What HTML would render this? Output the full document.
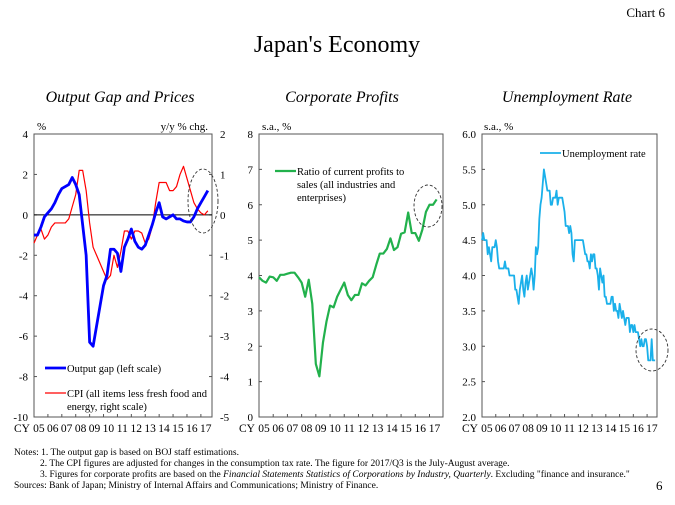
<!DOCTYPE html>
<html><head><meta charset="utf-8"><style>
body{margin:0;background:#fff;width:675px;height:500px;overflow:hidden;font-family:"Liberation Serif",serif}
svg text{font-family:"Liberation Serif",serif}
</style></head><body>
<svg id="s" width="675" height="500" viewBox="0 0 675 500" xmlns="http://www.w3.org/2000/svg">
<text x="665" y="17" font-size="13" text-anchor="end">Chart 6</text>
<text x="337" y="52" font-size="24" text-anchor="middle">Japan's Economy</text>
<text x="120" y="102" font-size="16" font-style="italic" text-anchor="middle">Output Gap and Prices</text>
<text x="342" y="102" font-size="16" font-style="italic" text-anchor="middle">Corporate Profits</text>
<text x="567" y="102" font-size="16" font-style="italic" text-anchor="middle">Unemployment Rate</text>
<g font-size="9.5">
<text x="14" y="455">Notes: 1. The output gap is based on BOJ staff estimations.</text>
<text x="40" y="466">2. The CPI figures are adjusted for changes in the consumption tax rate. The figure for 2017/Q3 is the July-August average.</text>
<text x="40" y="477">3. Figures for corporate profits are based on the <tspan font-style="italic">Financial Statements Statistics of Corporations by Industry, Quarterly</tspan>. Excluding "finance and insurance."</text>
<text x="14" y="488">Sources: Bank of Japan; Ministry of Internal Affairs and Communications; Ministry of Finance.</text>
</g>
<text x="656" y="490" font-size="13">6</text>
<g id="g"></g>
</svg>
<script>
const yearLabels=["05","06","07","08","09","10","11","12","13","14","15","16","17"];
const gapTicks=[4,2,0,-2,-4,-6,-8,-10];
const cpiTicks=[2,1,0,-1,-2,-3,-4,-5];
const profitTicks=[8,7,6,5,4,3,2,1,0];
const unempTicks=["6.0","5.5","5.0","4.5","4.0","3.5","3.0","2.5","2.0"];
const outputGap=[-1.0,-1.0,-0.6,-0.1,0.1,0.3,0.6,1.0,1.3,1.4,1.5,1.85,1.5,1.0,-0.5,-2.0,-6.3,-6.5,-5.5,-4.5,-3.5,-3.0,-1.7,-1.7,-1.9,-2.8,-1.6,-1.2,-0.7,-1.3,-1.6,-1.7,-1.5,-1.0,-0.5,0.1,0.6,-0.1,-0.2,-0.1,0.0,-0.2,-0.2,-0.3,-0.35,-0.35,-0.1,0.3,0.6,0.9,1.2];
const cpi=[-0.7,-0.5,-0.35,-0.6,-0.5,-0.3,-0.2,-0.2,-0.2,-0.2,-0.1,0.2,0.5,1.1,1.1,0.6,-0.2,-0.8,-1.0,-1.2,-1.4,-1.6,-1.5,-1.0,-1.3,-0.9,-0.4,-0.4,-0.6,-0.4,-0.4,-0.45,-0.7,-0.6,-0.3,0.3,0.8,0.8,0.8,0.6,0.6,0.7,1.0,1.2,0.9,0.6,0.3,0.15,0.05,0.0,0.1];
const profits=[3.95,3.85,3.8,3.97,3.95,3.85,4.02,4.02,4.05,4.08,4.08,3.95,3.8,3.4,3.88,3.2,1.5,1.15,2.1,2.7,3.15,3.1,3.4,3.6,3.8,3.45,3.3,3.45,3.45,3.78,3.72,3.85,3.95,4.3,4.62,4.62,4.75,5.05,4.72,4.8,5.18,5.22,5.78,5.2,5.2,4.98,5.3,5.8,6.0,6.0,6.15];
const unemployment=[4.5,4.6,4.5,4.5,4.5,4.3,4.4,4.3,4.2,4.4,4.4,4.4,4.5,4.4,4.2,4.1,4.1,4.1,4.1,4.1,4.2,4.1,4.1,4.1,4.0,4.0,4.0,4.0,4.0,3.8,3.8,3.7,3.6,3.8,3.9,4.0,3.8,3.7,3.9,4.0,3.8,3.9,4.0,4.1,4.0,3.8,4.0,4.4,4.3,4.4,4.8,5.0,5.1,5.3,5.5,5.4,5.3,5.2,5.2,5.2,5.0,5.0,5.1,5.1,5.1,5.2,5.0,5.1,5.1,5.1,5.1,5.0,4.9,4.7,4.7,4.7,4.6,4.7,4.6,4.3,4.2,4.5,4.5,4.5,4.5,4.5,4.5,4.5,4.5,4.4,4.3,4.3,4.2,4.2,4.1,4.3,4.2,4.3,4.3,4.1,4.1,4.0,3.8,4.1,4.0,3.9,4.0,3.7,3.7,3.6,3.6,3.6,3.6,3.7,3.7,3.5,3.6,3.5,3.5,3.4,3.6,3.5,3.4,3.5,3.4,3.3,3.4,3.4,3.4,3.2,3.3,3.3,3.2,3.3,3.2,3.2,3.2,3.1,3.0,3.1,3.0,3.0,3.1,3.1,3.0,2.8,2.8,2.8,3.1,2.8,2.8,2.8];

const NS="http://www.w3.org/2000/svg";
const G=document.getElementById('g');
function mk(tag,attrs,parent){const e=document.createElementNS(NS,tag);for(const k in attrs)e.setAttribute(k,attrs[k]);(parent||G).appendChild(e);return e;}
function txt(x,y,s,anchor,size,parent){const t=mk('text',{x:x,y:y,'font-size':size||11,'text-anchor':anchor||'start'},parent);t.textContent=s;return t;}

function scaleX(p,t){return p.x0+(t-2005)/(p.t1-2005)*(p.x1-p.x0);}
function scaleY(y0,y1,vmin,vmax,v){return y1-(v-vmin)/(vmax-vmin)*(y1-y0);}

function frame(p,name){
  const r=mk('rect',{x:p.x0,y:p.y0,width:p.x1-p.x0,height:p.y1-p.y0,fill:'none',stroke:'#555','stroke-width':1});
  
  
  const xl=mk('g',{});
  
  
  txt(p.x0-4,p.y1+15,'CY','end',11.5,xl);
  yearLabels.forEach((l,i)=>{
    const x=scaleX(p,2005+i);
    mk('line',{x1:x,x2:x,y1:p.y1,y2:p.y1-3,stroke:'#555'});
    txt(scaleX(p,2005+i+0.35),p.y1+15,l,'middle',11.5,xl);
  });
}
function yAxis(p,ticks,vmin,vmax,side,name){
  const g=mk('g',{});
  
  
  ticks.forEach(t=>{
    const y=scaleY(p.y0,p.y1,vmin,vmax,+t);
    if(side==='left'){mk('line',{x1:p.x0,x2:p.x0+3,y1:y,y2:y,stroke:'#555'});txt(p.x0-6,y+4,String(t),'end',11,g);}
    else{mk('line',{x1:p.x1,x2:p.x1-3,y1:y,y2:y,stroke:'#555'});txt(p.x1+8,y+4,String(t),'start',11,g);}
  });
}
function series(p,vals,vmin,vmax,step,color,w,name){
  const d=vals.map((v,i)=>(i?'L':'M')+scaleX(p,2005+i*step).toFixed(2)+','+scaleY(p.y0,p.y1,vmin,vmax,v).toFixed(2)).join(' ');
  const e=mk('path',{d:d,fill:'none',stroke:color,'stroke-width':w,'stroke-linejoin':'round'});
  
  
}
function ellipse(cx,cy,rx,ry,name){
  const e=mk('ellipse',{cx:cx,cy:cy,rx:rx,ry:ry,fill:'none',stroke:'#333','stroke-dasharray':'3,2','stroke-width':0.9});
  
  
}
function legend(x,y,color,w,lines,name){
  const g=mk('g',{});
  
  
  mk('line',{x1:x,x2:x+21,y1:y,y2:y,stroke:color,'stroke-width':w},g);
  lines.forEach((l,i)=>txt(x+22,y+4+i*13,l,'start',10.5,g));
}

// Panel 1
const p1={x0:34,x1:212,y0:134,y1:417,t1:2017.8};
frame(p1,'panel1');
yAxis(p1,gapTicks,-10,4,'left','panel1-left-y-axis');
yAxis(p1,cpiTicks,-5,2,'right','panel1-right-y-axis');
const z=scaleY(p1.y0,p1.y1,-10,4,0);
const zl=mk('line',{x1:p1.x0,x2:p1.x1,y1:z,y2:z,stroke:'#000','stroke-width':1});


txt(37,130,'%','start',11);
txt(208,130,'y/y % chg.','end',11);
series(p1,cpi,-5,2,0.25,'#f00',1.2,'cpi-line');
series(p1,outputGap,-10,4,0.25,'#0000ff',2.8,'output-gap-line');
ellipse(203,201,15,32,'panel1-highlight-ellipse');
legend(45,368,'#0000ff',2.8,['Output gap (left scale)'],'legend-output-gap');
legend(45,393,'#f00',1.2,['CPI (all items less fresh food and','energy, right scale)'],'legend-cpi');

// Panel 2
const p2={x0:259,x1:443,y0:134,y1:417,t1:2017.95};
frame(p2,'panel2');
yAxis(p2,profitTicks,0,8,'left','panel2-y-axis');
txt(262,130,'s.a., %','start',11);
series(p2,profits,0,8,0.25,'#22b14c',2.2,'profits-line');
ellipse(428,206,14,21,'panel2-highlight-ellipse');
legend(275,171,'#22b14c',2.2,['Ratio of current profits to','sales (all industries and','enterprises)'],'legend-profits');

// Panel 3
const p3={x0:482,x1:657,y0:134,y1:417,t1:2017.72};
frame(p3,'panel3');
yAxis(p3,unempTicks,2,6,'left','panel3-y-axis');
txt(484,130,'s.a., %','start',11);
series(p3,unemployment,2,6,1/12,'#1ab0ea',1.8,'unemployment-line');
ellipse(652,350,16,21,'panel3-highlight-ellipse');
legend(540,153,'#1ab0ea',1.8,['Unemployment rate'],'legend-unemployment');
</script>
</body></html>
